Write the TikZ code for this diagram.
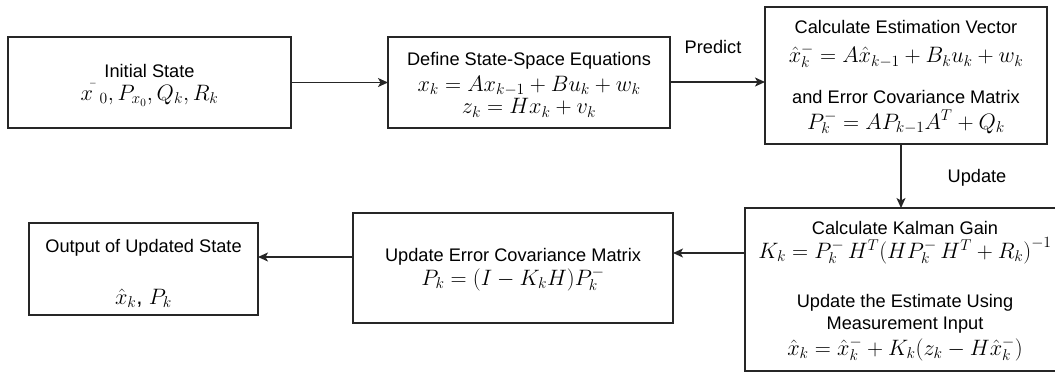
\RequirePackage{fix-cm}
\documentclass[tikz,border=0pt]{standalone}
\usepackage{fontspec}
\setmainfont{Liberation Sans}
\usetikzlibrary{arrows.meta}
\tikzset{
  boxnode/.style={draw=black!85, line width=1.3pt, inner sep=0pt, outer sep=0pt},
  txt/.style={inner sep=0pt, anchor=center, font=\fontsize{18.2}{22}\selectfont},
  mth/.style={inner sep=0pt, anchor=center, font=\fontsize{22.3}{26}\selectfont},
  conn/.style={line width=1.3pt, draw=black!85, -{Stealth[length=10pt,width=9pt,inset=2.5pt]}},
  lbl/.style={inner sep=0pt, font=\fontsize{18.2}{22}\selectfont}
}
\begin{document}
\begin{tikzpicture}[x=1pt,y=-1pt]
\useasboundingbox (0,0) rectangle (1055,372);
\begin{scope}
\clip (0,0) rectangle (1055,372);
% boxes
\node[boxnode, minimum width=283pt, minimum height=91pt] (b1) at (149.5,82.5) {};
\node[boxnode, minimum width=282pt, minimum height=91pt] (b2) at (529,82.5) {};
\node[boxnode, minimum width=282pt, minimum height=137pt] (b3) at (906,75.5) {};
\node[boxnode, minimum width=315pt, minimum height=163pt] (b4) at (902.5,289.5) {};
\node[boxnode, minimum width=320pt, minimum height=110pt] (b5) at (513,268) {};
\node[boxnode, minimum width=229pt, minimum height=92pt] (b6) at (143.5,269) {};
\end{scope}
% texts box 1
\node[txt] (t1a) at (149.5,71) {Initial State};
\node[mth] (t1b) at (149.5,95) {$x^{\bar{}}\;{}_0, P_{x_0}, Q_k, R_k$};
% box 2
\node[txt] (t2a) at (529,61) {Define State-Space Equations};
\node[mth] (t2b) at (529,86) {$x_k = Ax_{k-1} + Bu_k + w_k$};
\node[mth] (t2c) at (529,108) {$z_k = Hx_k + v_k$};
% box 3
\node[txt] (t3a) at (906,27) {Calculate Estimation Vector};
\node[mth] (t3b) at (906,56) {$\hat{x}_k^- = A\hat{x}_{k-1} + B_k u_k + w_k$};
\node[txt] (t3c) at (906,97) {and Error Covariance Matrix};
\node[mth] (t3d) at (906,122) {$P_k^- = AP_{k-1}A^T + Q_k$};
% box 4
\node[txt] (t4a) at (905,228) {Calculate Kalman Gain};
\node[mth] (t4b) at (905,251) {$K_k = P_k^-\,H^T\bigl(HP_k^-\,H^T + R_k\bigr)^{-1}$};
\node[txt] (t4c) at (905,303) {Update the Estimate Using};
\node[txt] (t4d) at (905,325) {Measurement Input};
\node[mth] (t4e) at (905,349) {$\hat{x}_k = \hat{x}_k^- + K_k\bigl(z_k - H\hat{x}_k^-\bigr)$};
% box 5
\node[txt] (t5a) at (513,257) {Update Error Covariance Matrix};
\node[mth] (t5b) at (513,279) {$P_k = (I - K_kH)P_k^-$};
% box 6
\node[txt] (t6a) at (143.5,248) {Output of Updated State};
\node[mth] (t6b) at (143.5,298) {$\hat{x}_k$, $P_k$};
% connectors
\draw[conn] (b1.east) -- (b2.west);
\draw[conn] ([yshift=0.5pt]b2.east) -- ([yshift=0.5pt]b2.east -| b3.west);
\node[lbl] (lp) at (713,47) {Predict};
\draw[conn] (b3.south -| 901,0) -- (b4.north -| 901,0);
\node[lbl] (lu) at (977,178) {Update};
\draw[conn] ([yshift=36.5pt]b4.west) -- ([yshift=36.5pt]b4.west -| b5.east);
\draw[conn] ([yshift=11pt]b5.west) -- ([yshift=11pt]b5.west -| b6.east);
\end{tikzpicture}
\end{document}
